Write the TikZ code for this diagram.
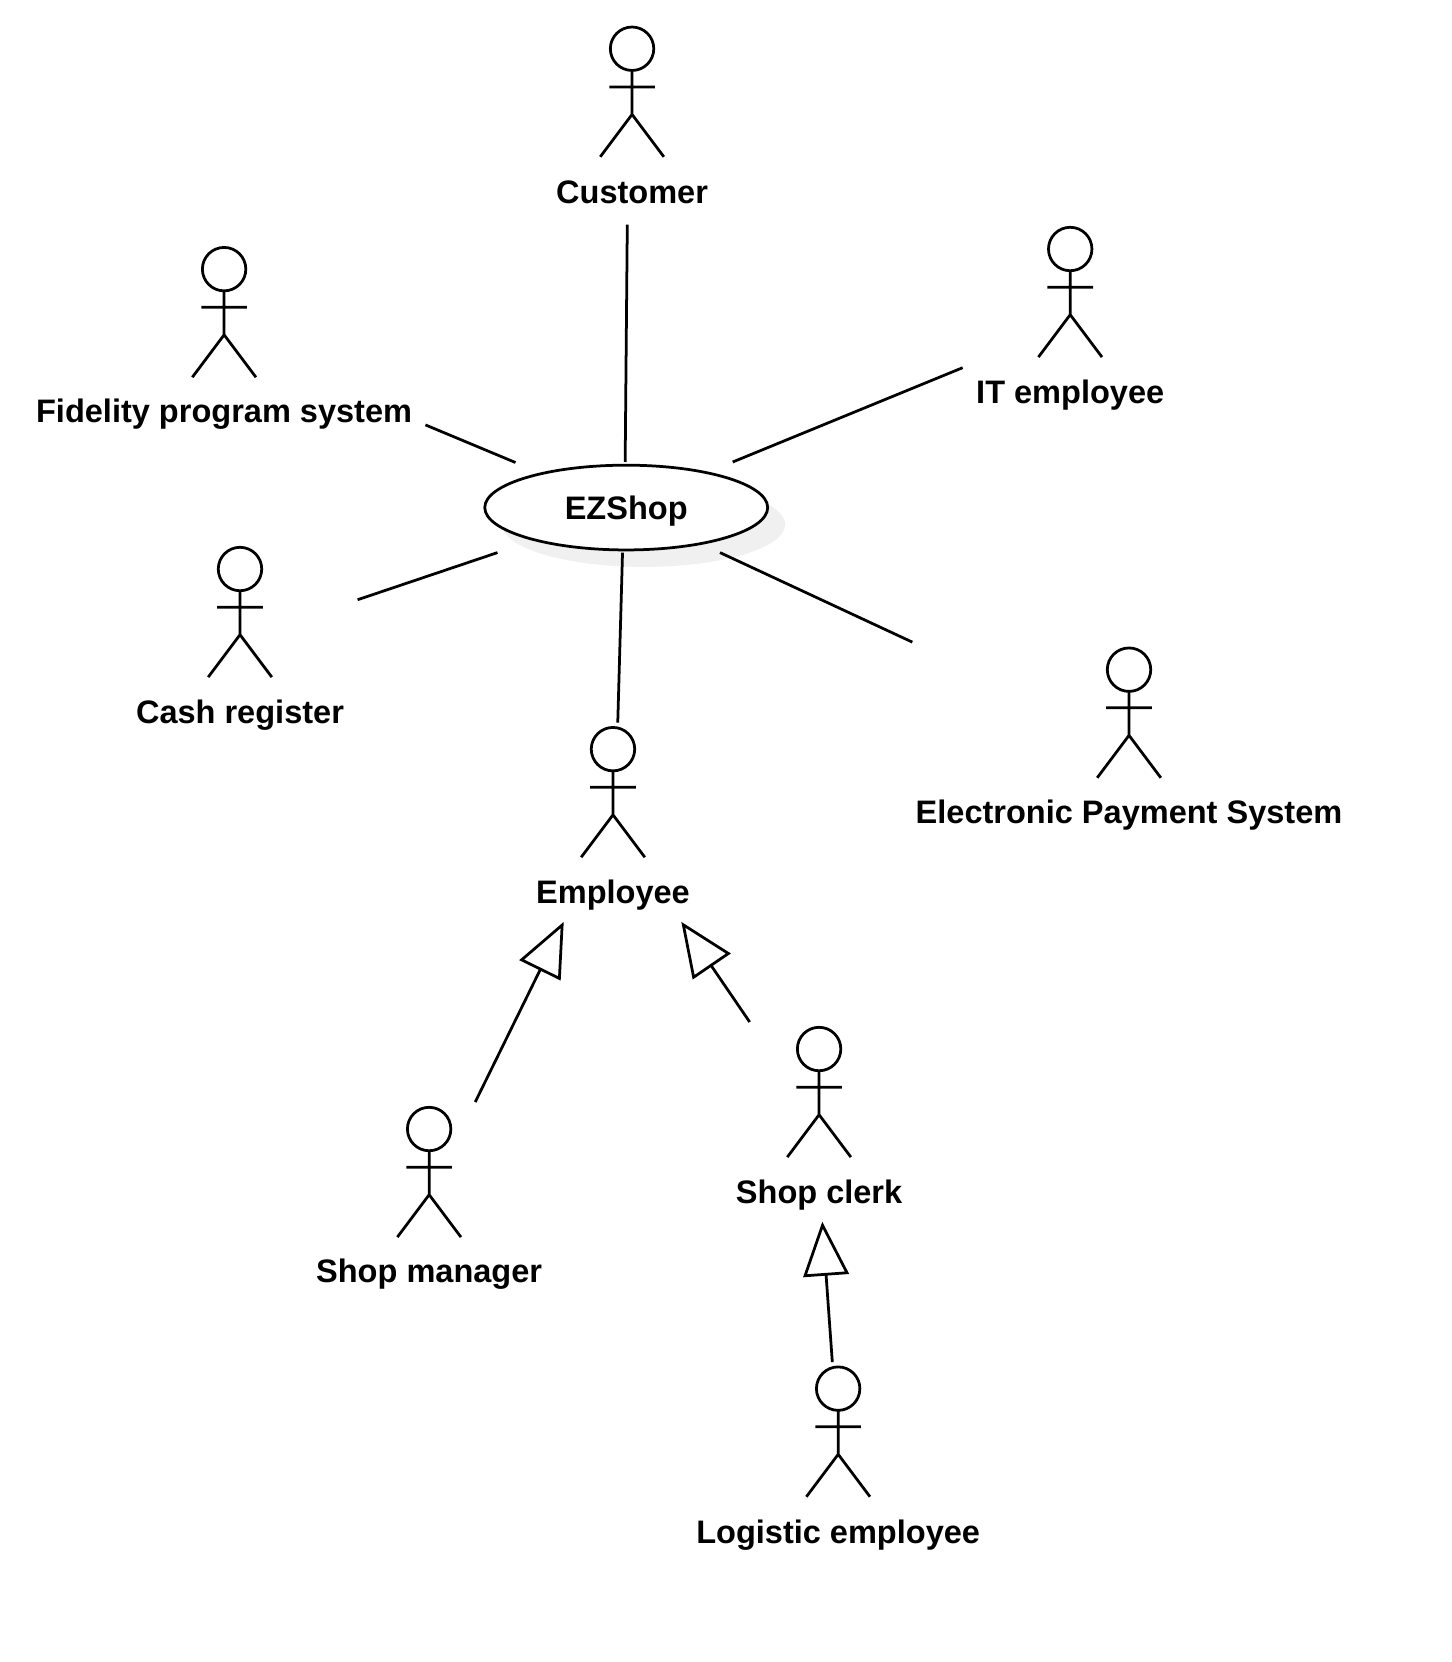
\documentclass[tikz,border=0pt]{standalone}
\usepackage{fontspec}
\setmainfont{Liberation Sans}
\usetikzlibrary{arrows.meta,shapes.geometric}
\tikzset{
  x=1pt,y=-1pt,
  stroke/.style={line width=2.6pt,draw=black},
  actorlabel/.style={font=\fontsize{30.7}{36}\selectfont\bfseries,inner sep=0pt,anchor=base,text=black},
  assoc/.style={stroke},
  general/.style={stroke,-{Triangle[open,fill=white,length=51pt,width=43pt]}},
  usecase/.style={ellipse,stroke,fill=white,minimum width=267pt,minimum height=80pt,inner sep=0pt,font=\fontsize{30.7}{36}\selectfont\bfseries},
  actorfig/.pic={
    \draw[stroke] (0,0) circle[radius=20.5];
    \draw[stroke] (0,21) -- (0,62) (-21.5,36) -- (21.5,36) (-30,102) -- (0,62) -- (30,102);
  }
}
\begin{document}
\begin{tikzpicture}
\useasboundingbox (0,0) rectangle (1370.3,1568.5);
% shadow and use case
\node[ellipse,fill=black!6,minimum width=267pt,minimum height=80pt] (shadow) at (607.5,495) {};
\node[usecase] (ezshop) at (591,479) {\raisebox{-11pt}[0pt][0pt]{EZShop}};
% actors
\pic at (596.5,46) {actorfig};
\node[actorlabel] (customer) at (596.5,192) {Customer};
\pic at (211.5,254) {actorfig};
\node[actorlabel] (fidelity) at (211.5,399) {Fidelity program system};
\pic at (1010,235) {actorfig};
\node[actorlabel] (it) at (1010,381) {IT employee};
\pic at (226.5,537) {actorfig};
\node[actorlabel] (cash) at (226.5,682.5) {Cash register};
\pic at (1065.5,632) {actorfig};
\node[actorlabel] (eps) at (1065.5,777) {Electronic Payment System};
\pic at (578.5,707) {actorfig};
\node[actorlabel] (employee) at (578.5,852.5) {Employee};
\pic at (405,1065.5) {actorfig};
\node[actorlabel] (manager) at (405,1210.5) {Shop manager};
\pic at (773,990) {actorfig};
\node[actorlabel] (clerk) at (773,1135.5) {Shop clerk};
\pic at (791,1310.5) {actorfig};
\node[actorlabel] (logistic) at (791,1456.5) {Logistic employee};
% connector ends
\coordinate (c1) at (592,212);   \coordinate (e1) at (590,436);
\coordinate (c2) at (401.5,401); \coordinate (e2) at (486.5,436.5);
\coordinate (c3) at (908.5,347); \coordinate (e3) at (691.5,436);
\coordinate (c4) at (337.5,566); \coordinate (e4) at (469.5,521.5);
\coordinate (c5) at (861,606);   \coordinate (e5) at (679.5,521.5);
\coordinate (c6) at (583,682);   \coordinate (e6) at (587.5,521.5);
\coordinate (g1) at (448.5,1040);\coordinate (t1) at (532,870);
\coordinate (g2) at (707.5,964.5);\coordinate (t2) at (643,870);
\coordinate (g3) at (785.5,1285.5);\coordinate (t3) at (776,1153);
\draw[assoc] (c1) -- (e1);
\draw[assoc] (c2) -- (e2);
\draw[assoc] (c3) -- (e3);
\draw[assoc] (c4) -- (e4);
\draw[assoc] (c5) -- (e5);
\draw[assoc] (c6) -- (e6);
\draw[general] (g1) -- (t1);
\draw[general] (g2) -- (t2);
\draw[general] (g3) -- (t3);
\end{tikzpicture}
\end{document}
